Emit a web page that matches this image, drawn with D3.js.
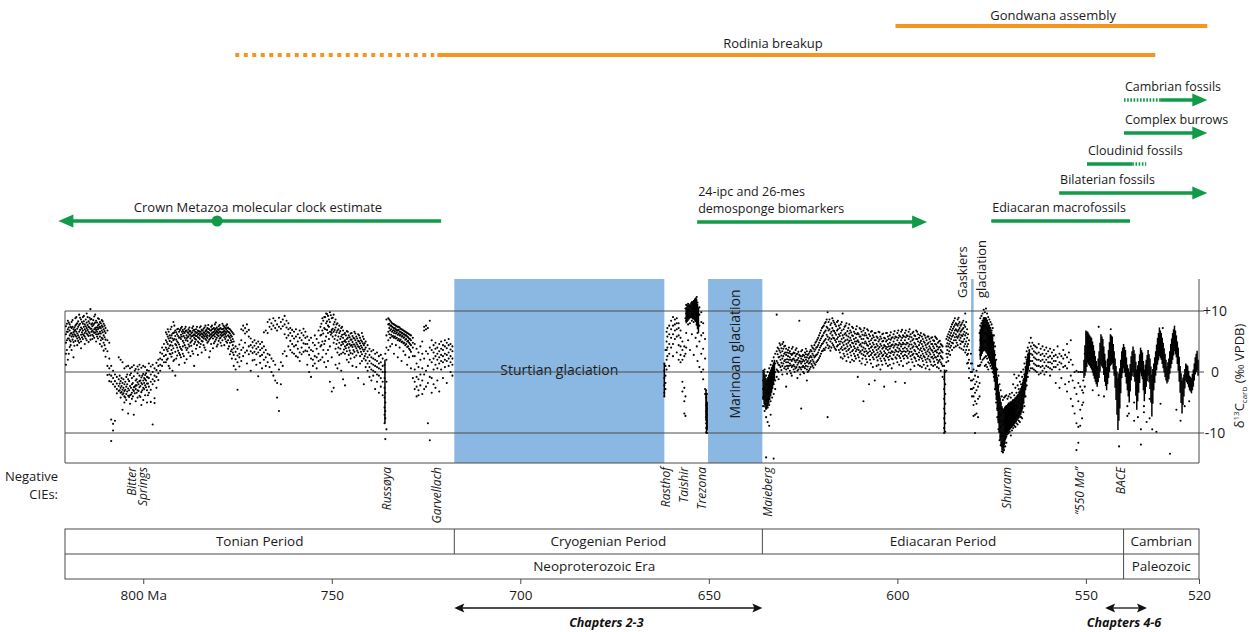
<!DOCTYPE html>
<html>
<head>
<meta charset="utf-8">
<script src="https://cdnjs.cloudflare.com/ajax/libs/d3/7.8.5/d3.min.js"></script>
<style>
  body { margin: 0; background: #fff; }
  svg { font-family: "Open Sans", sans-serif; }
</style>
</head>
<body>
<div id="chart"></div>
<script>
// ---- d13C carbonate compilation: [age Ma, value, value, ...] ----
var tonianRows = [
  [820.5,7.5,6.2,4.8,3.0,1.2],[820.0,8.4,7.0,6.6,5.5,2.0],[819.5,7.8,6.8,6.0,5.2,4.1],[819.0,8.2,7.2,6.4,5.8,3.6],
  [818.5,7.0,6.5,5.8,4.9,2.4],[818.0,8.8,7.6,6.9,6.0,5.1],[817.5,8.0,7.1,6.3,5.5,4.4],[817.0,9.4,7.7,6.6,5.7,4.8],
  [816.5,8.6,7.3,6.1,5.0,3.9],[816.0,9.0,7.9,6.8,6.2,5.4],[815.5,7.8,7.0,6.4,5.8,4.6],[815.0,9.6,8.1,7.2,6.3,5.2],
  [814.5,8.3,7.4,6.6,5.9,4.9],[814.0,10.3,8.6,7.1,6.0,5.3],[813.5,8.0,7.5,6.8,6.1,5.4],[813.0,9.1,7.9,7.0,6.4,5.6],
  [812.5,8.4,7.3,6.9,6.2,5.0],[812.0,8.8,7.6,7.0,6.2,5.5],[811.5,8.2,7.4,6.6,5.8,4.6],[811.0,8.5,7.6,6.8,5.6,4.2],
  [810.5,7.9,7.0,6.0,4.8,3.5],[810.0,7.2,6.4,5.3,3.8,2.5],[809.5,6.8,5.2,3.4,1.0,-0.5],[809.0,4.8,2.2,0.6,-0.4,-1.5],
  [808.5,1.0,-0.6,-1.6,-7.8,-11.3],[808.0,0.2,-1.0,-2.0,-8.5,-9.6],[807.5,-0.4,-1.5,-2.4,-8.0],[807.0,-0.8,-1.9,-2.8,-3.5],
  [806.5,2.4,-1.2,-2.3,-3.1],[806.0,2.0,-1.5,-2.6,-3.4,-4.2],[805.5,1.6,-1.8,-2.9,-3.7,-6.2],[805.0,0.6,-2.0,-3.1,-4.0,-5.0],
  [804.5,0.9,-0.8,-2.4,-3.6,-4.6],[804.0,1.0,-1.2,-2.7,-3.9,-6.8],[803.5,0.6,-0.5,-2.3,-3.8,-5.2],[803.0,0.8,-1.0,-2.0,-3.4,-4.4],
  [802.5,1.1,-0.7,-2.5,-3.1,-7.0],[802.0,0.5,-1.4,-2.2,-2.8,-4.8],[801.5,0.9,-0.2,-1.7,-3.0,-4.2],[801.0,1.2,-0.6,-1.5,-2.5,-3.9],
  [800.5,0.7,-0.9,-1.8,-3.3,-5.4],[800.0,1.0,-0.3,-1.4,-2.6,-4.6],[799.5,0.8,-0.5,-1.2,-2.2,-3.8],[799.0,0.3,-0.8,-1.9,-3.0,-5.0],
  [798.5,1.4,0.2,-1.0,-2.4,-3.4],[798.0,0.9,-0.4,-1.6,-2.9,-4.9],[797.5,1.2,0.0,-1.2,-2.0,-8.6],[797.0,0.6,-0.6,-1.5,-4.3,-5.1],
  [796.5,1.5,0.3,-0.8,-2.6],[796.0,2.0,1.0,-0.2,-1.3],[795.5,3.2,2.2,1.2,0.2],[795.0,4.0,3.0,2.0,1.0],[794.5,4.6,3.6,2.6,1.6],
  [794.0,6.5,5.2,4.0,2.8,1.6],[793.5,7.0,5.8,4.6,3.4,2.2],[793.0,6.0,5.1,4.3,3.0,0.6],[792.5,7.4,6.0,4.9,3.6,2.5],
  [792.0,8.2,6.4,5.2,3.9,1.8],[791.5,6.8,5.9,4.6,3.3,-0.6],[791.0,7.0,6.2,5.0,4.0,2.7],[790.5,6.6,5.6,4.5,3.1,1.2],
  [790.0,7.2,6.1,5.4,3.8,2.4],[789.5,6.9,6.3,5.1,4.2,3.0],[789.0,7.1,6.4,5.6,4.4,1.5],[788.5,6.8,6.0,5.5,3.6,2.1],
  [788.0,7.0,6.4,5.8,4.5,3.2],[787.5,6.7,6.1,5.5,4.8,2.6],[787.0,7.2,6.5,5.9,5.2,3.4],[786.5,6.9,6.2,5.6,4.6,1.0],
  [786.0,7.0,6.4,5.9,5.3,3.8],[785.5,6.8,6.2,5.7,5.0,2.8],[785.0,7.3,6.6,6.0,5.4,4.1],[784.5,6.9,6.3,5.8,5.1,3.2],
  [784.0,7.1,6.5,6.0,5.5,4.4],[783.5,7.6,6.7,6.1,5.4,3.6],[783.0,7.2,6.6,6.0,5.6,4.8],[782.5,7.0,6.4,5.9,5.3,2.4],
  [782.0,7.4,6.8,6.2,5.7,4.6],[781.5,7.1,6.5,6.0,5.5,3.9],[781.0,7.8,6.9,6.3,5.8,5.0],[780.5,7.3,6.7,6.2,5.6,4.2],
  [780.0,7.5,6.9,6.4,5.9,5.1],[779.5,7.2,6.6,6.1,5.6,4.8],[779.0,7.9,7.0,6.5,6.0,5.2],[778.5,7.4,6.8,6.3,5.7,4.4],
  [778.0,7.6,7.0,6.4,5.8,5.0],[777.5,7.3,6.6,6.0,5.2,3.8],[777.0,7.0,6.3,5.6,4.8,2.9],[776.5,6.6,5.8,4.9,3.7,2.2],
  [776.0,6.2,5.0,3.9,2.8,1.0],[775.5,4.2,3.3,2.1,0.4],[775.0,3.8,2.7,1.6,-2.9],[774.5,4.5,3.0,2.4,0.9],
  [774.0,7.0,5.2,3.6,1.8],[773.5,7.6,6.8,4.0,2.6],[773.0,7.2,6.3,4.8,3.2],[772.5,7.8,6.6,3.5,1.4],
  [772.0,6.9,5.8,4.2,2.9],[771.5,5.5,4.4,3.4,0.2],[771.0,4.9,4.0,3.1,1.9],[770.5,5.2,4.3,3.3,2.0],
  [770.0,4.7,3.8,2.9,1.2],[769.5,5.0,4.1,3.2,-0.7],[769.0,4.6,3.6,2.6,1.5],[768.5,4.9,3.9,2.8,0.6],
  [768.0,6.5,4.2,3.2,2.0],[767.5,6.8,3.6,2.4,1.0],[767.0,8.2,6.4,3.0,1.6],[766.5,8.6,7.4,2.8,0.8],
  [766.0,8.0,7.0,2.2,0.0],[765.5,8.8,7.6,1.8,-0.6],[765.0,8.4,7.2,1.2,-1.4],[764.5,7.8,6.8,-1.8,-4.2],
  [764.0,8.9,7.4,0.4,-6.4],[763.5,8.2,7.1,1.6,-2.0],[763.0,8.6,7.5,3.0,1.0],[762.5,9.2,7.8,6.2,3.4],
  [762.0,8.4,7.3,5.6,2.6],[761.5,8.0,7.0,6.0,4.2],[761.0,7.2,6.4,5.1,3.6],[760.5,6.9,5.9,4.6,3.2],
  [760.0,6.6,5.5,4.2,3.0],[759.5,7.0,5.8,4.4,2.6],[759.0,6.2,5.0,3.8,2.4],[758.5,6.8,5.6,3.2,1.8],
  [758.0,6.4,5.2,4.0,2.9],[757.5,7.1,6.0,4.7,3.3],[757.0,6.6,5.6,4.6,3.5],[756.5,5.8,4.6,3.4,1.2],
  [756.0,5.2,4.0,2.8,0.0],[755.5,5.6,3.6,2.2,-0.8],[755.0,4.8,3.4,2.0,1.0],[754.5,6.0,4.4,2.6,1.4],
  [754.0,5.4,3.8,2.4,0.6],[753.5,6.8,4.8,3.0,1.8],[753.0,7.4,6.0,4.2,2.0],[752.5,8.8,6.8,5.0,2.4],
  [752.0,9.0,7.2,4.6,1.6],[751.5,9.6,8.0,5.8,3.0,0.8],[751.0,9.2,7.6,6.4,3.6,1.8],[750.5,9.8,8.2,6.6,4.2,-1.6],
  [750.0,8.8,6.9,6.4,2.4,-3.2],[749.5,9.4,7.8,6.6,4.8,-2.6],[749.0,8.6,7.3,6.0,3.8,1.2],[748.5,8.0,6.8,5.2,3.2,0.6],
  [748.0,7.6,6.4,4.8,2.8,1.4],[747.5,7.2,5.8,4.4,3.0,0.2],[747.0,6.8,5.6,4.6,3.2,-1.2],[746.5,6.4,5.2,4.2,3.0,-2.2],
  [746.0,6.7,5.4,4.4,3.4,2.0],[745.5,6.0,5.0,4.0,2.8,1.6],[745.0,6.3,5.3,4.3,3.1,2.2],[744.5,5.9,4.9,4.1,3.0,1.0],
  [744.0,6.6,5.5,4.5,3.3,2.4],[743.5,5.8,4.8,3.9,2.7,0.8],[743.0,6.2,5.1,4.2,3.2,-1.0],[742.5,5.6,4.7,3.8,2.6,1.4],
  [742.0,6.4,5.0,4.0,2.9,1.8],[741.5,5.4,4.4,3.4,2.2,-2.0],[741.0,5.0,4.0,3.0,1.9,0.8],[740.5,4.4,3.4,2.4,1.4,0.2],
  [740.0,3.8,2.8,1.8,0.8,-0.8],[739.5,3.4,2.4,1.4,0.4,-1.4],[739.0,3.6,2.2,1.2,0.2,-0.6],[738.5,3.0,2.0,1.0,0.0,-2.8],
  [738.0,3.2,1.8,0.8,-0.4,-1.6],[737.5,2.6,1.4,0.6,-0.6,-3.4],[737.0,2.8,1.6,0.4,-1.0,-2.4],[736.5,2.2,1.0,0.0,-1.6,-3.8],
  [736.0,1.2,-1.0,-2.6,-4.2,-5.8,-7.0,-8.4],[735.8,3.0,0.0,-3.4,-5.0,-6.4,-7.6,-11.0],[735.5,8.6,6.0,4.0,2.0,-1.6,-9.4],
  [735.0,8.8,7.8,6.6,5.2,3.6],[734.5,8.4,7.6,6.8,5.6,4.2],[734.0,8.0,7.4,6.6,5.8,4.6],[733.5,7.8,7.1,6.4,5.6,3.0],
  [733.0,7.6,7.0,6.3,5.5,4.4],[732.5,7.4,6.8,6.1,5.2,2.4],[732.0,7.3,6.6,6.0,5.1,4.0],[731.5,7.0,6.4,5.8,4.9,1.8],
  [731.0,6.8,6.2,5.6,4.7,3.4],[730.5,6.6,6.0,5.3,4.4,2.8],[730.0,6.4,5.8,5.0,4.1,1.2],[729.5,6.2,5.5,4.8,3.8,2.4],
  [729.0,6.0,5.2,4.4,3.3,0.6],[728.5,5.6,4.8,4.0,2.6,-1.0],[728.0,4.6,2.6,0.4,-1.6,-2.8],[727.5,3.8,1.4,-0.8,-2.4,-4.0],
  [727.0,3.2,0.8,-1.2,-3.0,-3.8],[726.5,4.2,2.0,-0.4,-2.2],[726.0,5.0,3.0,0.6,-1.4,-3.6],[725.5,7.4,6.8,2.2,-0.4,-2.8],
  [725.0,7.6,7.0,3.4,0.2,-2.4],[724.5,7.2,3.0,1.0,-1.8,-8.4],[724.0,8.4,4.0,2.0,-0.8,-11.2],[723.5,5.2,3.6,1.6,-1.0,-3.4],
  [723.0,4.4,3.2,2.2,0.4,-2.0],[722.5,4.8,3.8,2.6,1.2,-2.6],[722.0,4.0,3.0,2.0,0.6,-1.4],[721.5,4.6,3.4,2.4,1.4,-3.2],
  [721.0,5.0,3.8,2.8,1.8,0.4],[720.5,4.4,3.6,2.6,1.6,-1.0],[720.0,5.2,4.2,3.0,2.0,0.8],[719.5,4.8,3.9,2.8,1.8,-1.8],
  [719.0,5.4,4.4,3.2,2.2,1.0],[718.5,4.6,3.7,2.6,1.6,0.0],[718.0,4.2,3.4,2.2,1.2,-0.6]
];

// in-between readings where the Tonian cloud is thickest
var tonianBandRows = [
  [820.25,7.9,6.6,5.2,3.6],[819.75,8.1,7.3,5.5,3.0],[819.25,7.4,6.3,5.0,4.4],[818.75,8.5,7.4,6.1,5.3],[818.25,7.3,6.7,6.2,4.3],
  [817.75,9.0,7.8,6.6,5.8],[817.25,8.3,7.4,6.0,5.1],[816.75,8.9,7.9,6.9,5.4],[816.25,8.2,7.1,6.5,5.7],[815.75,9.2,8.3,7.4,6.0],
  [815.25,8.6,7.5,6.7,5.5],[814.75,9.0,7.7,6.9,6.1],[814.25,8.9,8.0,7.3,6.4],[813.75,8.7,7.8,7.1,6.6],[813.25,8.5,7.7,6.6,5.9],
  [812.75,9.4,8.1,7.2,6.5],[812.25,8.1,7.3,6.6,5.8],[811.75,8.7,7.8,7.2,6.3],[811.25,8.0,7.2,6.3,5.2],[810.75,8.3,7.4,6.5,5.4],
  [810.25,7.6,6.7,5.7,4.4],
  [806.25,-0.6,-1.9,-3.0],[805.75,-1.0,-2.3,-3.3],[805.25,-1.2,-2.6,-3.5],[804.75,-1.6,-2.9,-4.2],[804.25,-0.4,-2.0,-3.2],
  [803.75,-1.5,-3.0,-4.1],[803.25,-0.2,-2.6,-3.7],[802.75,-1.8,-2.9,-4.0],[802.25,0.2,-2.4,-3.5],[801.75,-1.2,-2.2,-3.4],
  [801.25,0.4,-2.0,-3.1],[800.75,-1.4,-2.3,-4.1],[800.25,-0.6,-2.0,-3.0],[799.75,-1.0,-1.8,-2.8],[799.25,-0.2,-1.4,-2.5],
  [798.75,-0.9,-1.9,-3.8],
  [793.75,6.2,4.9,3.7,2.0],[793.25,6.6,5.5,3.9,1.0],[792.75,7.0,5.6,4.4,2.9],[792.25,6.3,5.5,4.3,3.1,0.2],[791.75,7.6,6.5,5.4,2.0],
  [791.25,6.5,5.3,4.4,2.2],[790.75,7.1,5.9,4.8,3.5],[790.25,6.9,5.7,4.1,2.8],[789.75,7.4,6.6,5.8,3.6],[789.25,6.6,5.9,4.8,2.6],
  [788.75,7.4,6.7,5.2,4.0],[788.25,6.5,5.7,5.1,3.9],[787.75,7.3,6.7,6.1,4.2],[787.25,6.4,5.8,5.0,4.3],[786.75,7.5,6.8,6.0,3.0],
  [786.25,6.6,6.0,5.4,4.9],[785.75,7.4,6.5,5.9,4.4],[785.25,6.7,6.3,5.6,4.8],[784.75,7.5,6.6,6.2,4.6],[784.25,6.8,6.2,5.7,5.0],
  [783.75,7.3,6.4,5.8,4.0],[783.25,6.9,6.3,5.8,5.2],[782.75,7.7,7.1,6.5,5.0],[782.25,6.8,6.1,5.5,3.4],[781.75,7.6,7.0,6.4,5.9],
  [781.25,7.2,6.6,6.1,4.7],[780.75,8.1,7.1,6.5,5.3],[780.25,7.0,6.5,6.0,4.5],[779.75,7.7,7.1,6.6,5.5],[779.25,7.0,6.4,5.9,4.3],
  [778.75,7.6,7.1,6.6,6.1],[778.25,7.2,6.6,6.1,5.4],[777.75,7.8,7.2,6.7,4.8],[777.25,7.1,6.5,5.8,4.2],[776.75,6.8,6.0,5.2,3.4],
  [776.25,6.4,5.4,4.4,3.2],
  [752.75,7.9,6.1,4.4],[752.25,8.4,6.3,3.6],[751.75,9.0,7.0,5.1],[751.25,9.5,8.3,6.9],[750.75,8.6,7.4,5.4],[750.25,9.3,6.6,6.1],
  [749.75,8.9,7.1,5.8],[749.25,8.2,6.9,5.4],[748.75,7.8,6.5,4.6],[748.25,7.0,5.8,4.0],[747.75,6.7,5.4,3.8],[747.25,7.4,6.1,4.9],
  [746.75,6.2,5.0,3.7],[746.25,6.0,4.9,3.9],[745.75,6.6,5.6,4.6],[745.25,5.7,4.6,3.5],[744.75,6.4,5.3,4.4],[744.25,5.6,4.5,3.6],
  [743.75,6.3,5.2,4.2],[743.25,5.5,4.5,3.5],[742.75,6.0,5.0,4.1],[742.25,5.2,4.3,3.3],[741.75,5.8,4.7,3.7],[741.25,4.7,3.7,2.6],
  [734.75,8.6,7.9,7.2,6.2],[734.25,8.2,7.6,7.0,6.1],[733.75,7.9,7.3,6.8,5.9],[733.25,7.7,7.2,6.7,5.8],[732.75,7.5,6.9,6.5,5.6],
  [732.25,7.4,6.9,6.3,5.4],[731.75,7.1,6.6,6.1,5.3],[731.25,6.9,6.4,5.9,5.0],[730.75,6.7,6.2,5.7,4.8],[730.25,6.5,6.0,5.4,4.6],
  [729.75,6.3,5.7,5.1,4.2],[729.25,6.1,5.4,4.6,3.6]
];

var cryogenianRows = [
  [661.8,1.4,0.2,-1.0,-2.2,-3.4,-4.0],[661.5,3.6,1.0,-0.6,-1.8,-2.8],[661.2,6.6,5.0,3.6,2.0,0.4],[661.0,7.2,5.8,4.0,2.6],
  [660.5,7.6,6.2,4.6,3.0,1.0],[660.0,8.4,7.0,5.6,4.0],[659.5,9.0,7.6,6.2,4.6,2.6],[659.0,8.6,7.8,6.8,5.4],
  [658.5,8.8,8.0,7.0,5.8,3.2],[658.0,8.0,7.2,6.0,4.4,2.0],[657.5,6.8,5.6,4.2,2.8,1.6],[657.0,5.0,3.6,2.0,-1.6,-3.2],
  [656.5,4.2,2.6,-2.6,-4.8,-6.8],[656.2,10.4,8.8,3.0,-4.0,-7.2],[656.0,11.0,9.6,8.4,6.4,4.0],[655.5,11.2,10.2,9.2,7.8,5.2],
  [655.0,10.8,10.0,9.0,8.0,3.6],[654.5,11.4,10.4,9.6,8.4,6.2],[654.0,11.6,10.6,9.4,8.2,2.8],[653.5,12.0,10.8,9.8,8.6,5.6],
  [653.2,12.3,11.0,9.6,7.8,4.2],[653.0,11.4,10.2,8.8,6.4,1.8],[652.5,10.6,9.4,7.6,5.0,0.8],[652.0,9.8,8.2,6.0,3.0,0.0],
  [651.5,8.0,6.4,3.8,0.4,-1.2],[651.0,5.4,2.2,-2.8,-3.6],[650.7,-3.0,-4.2,-5.4,-6.4,-7.4,-8.4,-9.2,-9.9],
  [650.5,-3.6,-5.0,-6.0,-7.0,-8.0,-9.0,-10.0]
];

var ediacaranRows = [
  [635.6,0.2,-1.4,-2.8,-4.2,-5.6],[635.2,0.4,-1.2,-2.6,-4.0,-5.2,-6.4],[634.8,-0.6,-2.0,-3.4,-4.6,-6.0,-7.4,-14.0],
  [634.4,0.0,-1.6,-3.0,-4.4,-5.8,-8.2],[634.0,0.6,-1.0,-2.4,-3.8,-5.4,-8.8],[633.6,1.2,-0.4,-1.8,-3.2,-4.8,-7.0],
  [633.2,1.8,0.2,-1.2,-2.6,-4.2],[632.8,2.4,0.8,-0.6,-2.0,-3.6,-14.2],[632.4,3.0,1.4,0.0,-1.4,-2.8],[632.0,9.4,3.4,1.8,0.4,-0.8],
  [631.5,3.8,2.4,1.2,0.0,-1.2],[631.0,4.4,3.2,2.0,0.8],[630.5,4.6,3.4,2.2,1.0,-0.4],[630.0,4.2,3.0,1.8,0.6],
  [629.5,3.8,2.8,1.6,0.4,-2.4],[629.0,3.6,2.6,1.6,0.6],[628.5,3.4,2.4,1.4,0.2],[628.0,3.8,2.8,1.8,0.8,-0.6],
  [627.5,3.2,2.2,1.2,0.4],[627.0,3.6,2.6,1.6,0.6],[626.5,3.0,2.0,1.2,0.2,-1.0],[626.0,8.4,2.8,1.8,0.8],
  [625.5,3.4,2.2,1.4,0.4,-6.0],[625.0,2.8,2.0,1.0,0.0],[624.5,3.2,2.4,1.4,0.6],[624.0,3.4,2.4,1.6,0.4,-1.4],
  [623.5,3.0,2.2,1.4,0.2],[623.0,3.6,2.6,1.8,0.8],[622.5,4.0,3.0,2.0,1.0],[622.0,4.4,3.4,2.4,1.4],
  [621.5,5.0,4.0,2.8,1.6],[621.0,5.6,4.4,3.2,2.0],[620.5,6.4,5.2,4.0,2.6],[620.0,7.2,5.8,4.6,3.4],
  [619.5,7.6,6.4,5.0,3.8],[619.0,8.2,6.8,5.4,4.0],[618.5,9.8,7.2,5.8,4.4,-7.4],[618.0,8.6,7.0,5.6,4.2],
  [617.5,8.0,6.6,5.4,4.0],[617.0,8.4,6.8,5.6,4.4],[616.5,7.8,6.4,5.2,3.8],[616.0,8.2,6.8,5.4,4.2],
  [615.5,7.6,6.2,5.0,3.6],[615.0,7.8,6.4,5.0,3.8,2.4],[614.5,9.6,6.0,4.8,3.6,2.2],[614.0,7.4,6.2,5.0,3.8,2.6],
  [613.5,8.0,6.0,4.6,3.4,1.8],[613.0,7.2,5.8,4.8,3.6,2.4],[612.5,6.8,5.6,4.4,3.2,1.6],[612.0,7.4,6.0,4.8,3.4,2.0],
  [611.5,6.6,5.4,4.2,3.0,1.8],[611.0,7.0,5.6,4.6,3.4,2.2],[610.5,6.4,5.2,4.0,2.8,-0.8],[610.0,7.2,5.8,4.4,3.2,1.8],
  [609.5,6.6,5.4,4.2,3.0,1.4],[609.0,6.8,5.4,4.0,2.8,-4.8],[608.5,6.4,5.0,3.8,2.6,1.2],[608.0,7.0,5.6,4.4,3.0,1.6],
  [607.5,6.2,5.0,3.8,2.6,-2.0],[607.0,6.6,5.2,4.0,2.8,1.4],[606.5,6.0,4.8,3.6,2.4,0.8],[606.0,6.4,5.2,4.0,2.8,-1.4],
  [605.5,5.8,4.6,3.6,2.4,1.0],[605.0,6.6,5.0,3.8,2.6,1.2],[604.5,5.8,4.6,3.4,2.2,0.4],[604.0,6.2,5.0,3.8,2.6,1.2],
  [603.5,5.6,4.4,3.4,2.2,-2.4],[603.0,6.4,5.0,3.8,2.6,1.4],[602.5,5.8,4.6,3.6,2.4,1.0],[602.0,6.0,4.8,3.8,2.6,1.2],
  [601.5,5.6,4.4,3.4,2.2,0.6],[601.0,6.2,5.0,4.0,2.8,1.4],[600.5,5.8,4.6,3.6,2.4,-1.6],[600.0,6.4,5.2,4.0,2.8,1.6],
  [599.5,6.0,4.8,3.8,2.6,1.2],[599.0,6.6,5.2,4.2,3.0,1.8],[598.5,6.0,4.8,3.8,2.6,1.0],[598.0,6.4,5.2,4.0,2.8,-1.8],
  [597.5,6.0,4.8,3.8,2.6,1.4],[597.0,6.6,5.4,4.2,3.0,1.6],[596.5,6.2,5.0,3.8,2.6,0.4],[596.0,6.4,5.2,4.0,2.8,1.6],
  [595.5,6.0,4.8,3.6,2.4,1.0],[595.0,6.8,5.4,4.2,3.0,1.8],[594.5,6.2,5.0,3.8,2.6,1.2],[594.0,6.0,4.8,3.6,2.4,1.0],
  [593.5,5.8,4.6,3.4,2.2,0.8],[593.0,6.2,5.0,3.8,2.6,1.2],[592.5,5.6,4.4,3.2,2.0,0.6],[592.0,5.8,4.6,3.4,2.2,1.0],
  [591.5,5.4,4.2,3.2,2.0,0.4],[591.0,5.6,4.6,3.6,2.4,1.2],[590.5,5.2,4.2,3.2,2.2,1.0],[590.0,5.8,4.6,3.4,2.4,1.2],
  [589.5,5.4,4.2,3.2,2.0,0.8],[589.0,5.0,4.0,3.0,1.8,0.6],[588.5,4.6,3.6,2.6,1.6,0.2],[588.0,4.2,3.2,2.2,1.0,-0.8],
  [587.6,1.0,-1.2,-2.8,-4.4,-6.0,-7.6,-9.2,-10.0],[587.3,0.0,-2.0,-3.6,-5.2,-6.8,-8.4,-9.8],
  [587.0,5.4,4.2,3.0,1.6,0.2],[586.5,6.2,5.2,4.2,3.0,1.8],[586.0,7.0,6.0,5.0,4.0,2.8],[585.5,7.8,6.8,5.8,4.8,3.6],
  [585.0,8.4,7.4,6.4,5.2,4.0],[584.5,8.0,7.0,6.2,5.2,4.2],[584.0,8.6,7.6,6.6,5.6,4.4],[583.5,8.2,7.2,6.2,5.2,4.0],
  [583.0,7.8,6.8,6.0,5.0,3.8],[582.5,8.4,7.2,6.2,5.0,3.6],[582.0,9.6,7.4,6.0,4.6,3.2],[581.5,7.0,5.6,4.2,2.8,1.4],
  [581.0,5.2,3.6,2.0,0.6,-1.0],[580.5,3.0,1.4,0.0,-1.4,-2.8],[580.2,1.4,0.0,-1.4,-2.8,-4.0],
  [579.8,0.4,-1.2,-2.6,-4.0,-5.4,-7.2],[579.4,-0.6,-2.0,-3.4,-4.8,-7.0,-10.0],[579.0,0.2,-1.6,-3.0,-5.2,-6.8],
  [578.6,1.0,-0.8,-2.4,-4.4,-7.4],[578.2,6.4,3.6,1.0,-1.8,-4.0],
  [578.0,8.8,7.6,6.4,5.2,4.0,2.8,1.2],[577.7,9.2,8.0,6.8,5.6,4.4,3.2,1.6],[577.4,9.6,8.4,7.2,6.0,4.8,3.4,2.0],
  [577.1,10.2,8.8,7.6,6.4,5.0,3.6,2.2],[576.8,9.8,8.6,7.4,6.2,5.0,3.8,2.4,1.0],[576.5,10.4,8.8,7.6,6.4,5.2,4.0,2.6,1.2],
  [576.2,9.6,8.4,7.2,6.0,4.8,3.6,2.2,0.8],[575.9,9.0,8.0,6.8,5.6,4.4,3.0,1.6,0.4],[575.6,8.6,7.6,6.4,5.2,4.0,2.8,1.4],
  [575.3,8.2,7.2,6.0,4.8,3.6,2.4,1.0],[575.0,7.8,6.8,5.6,4.4,3.2,2.0,0.6],[574.7,7.2,6.0,4.8,3.6,2.4,1.2,0.0],
  [574.4,6.0,4.8,3.4,2.0,0.6,-0.8],[574.1,4.2,2.8,1.4,0.0,-1.4,-2.8],[573.8,2.0,0.6,-0.8,-2.2,-3.6,-5.0],
  [573.5,0.4,-1.2,-2.8,-4.4,-6.0,-7.4],[573.2,-0.6,-2.4,-4.2,-6.0,-7.8,-9.4],[572.9,-2.0,-4.0,-6.0,-8.0,-9.8,-11.2],
  [572.6,-3.0,-5.0,-7.0,-9.0,-10.6,-12.0],[572.3,-4.0,-6.0,-8.0,-10.0,-11.6,-13.0],[572.0,-4.6,-6.6,-8.6,-10.4,-12.2,-13.2],
  [571.7,-4.2,-6.2,-8.2,-10.0,-11.8,-12.8],[571.4,-4.0,-5.8,-7.6,-9.4,-11.0,-12.2],[571.1,-3.8,-5.6,-7.4,-9.2,-10.6,-11.6],
  [570.8,-4.4,-6.0,-7.6,-9.0,-10.2],[570.5,-4.0,-5.6,-7.2,-8.6,-10.0],[570.2,-3.6,-5.4,-7.0,-8.4,-9.8],
  [569.9,-4.2,-5.8,-7.4,-8.8,-10.4],[569.6,-3.4,-5.2,-6.8,-8.2,-9.6],[569.3,-2.0,-4.6,-6.4,-8.0,-9.2],
  [569.0,-0.4,-3.8,-5.8,-7.4,-8.8],[568.7,-2.6,-4.4,-6.0,-7.6,-9.0],[568.4,-1.0,-3.4,-5.4,-7.0,-8.4],
  [568.1,-2.2,-4.0,-5.8,-7.2,-8.6],[567.8,-0.6,-2.8,-4.8,-6.6,-8.0],[567.5,-1.6,-3.4,-5.2,-6.8,-8.2],
  [567.2,0.0,-2.0,-4.0,-5.8,-7.4],[566.9,-0.8,-2.6,-4.4,-6.0,-7.6],[566.6,0.4,-1.4,-3.2,-5.0,-6.6],
  [566.3,1.4,-0.4,-2.2,-4.0,-5.6],[566.0,2.4,0.8,-0.8,-2.4,-4.0],[565.7,3.4,2.0,0.6,-0.8,-2.2],
  [565.4,4.0,2.8,1.6,0.4,-0.8],[565.0,4.8,3.6,2.4,1.2,0.2],[564.6,5.6,4.2,3.0,1.8,0.6],[564.2,4.8,3.8,2.8,1.8,0.6],
  [563.8,4.4,3.4,2.4,1.4,0.4],[563.4,4.2,3.2,2.2,1.2,0.2],[563.0,4.0,3.0,2.0,1.0,0.0],[562.5,4.6,3.2,2.0,1.0,-0.4],
  [562.0,3.8,2.8,1.8,0.8,-0.2],[561.5,4.2,3.0,2.0,1.0,0.2],[561.0,3.6,2.6,1.6,0.6,-0.4],[560.5,4.0,3.0,2.0,1.0,0.0],
  [560.0,3.4,2.4,1.6,0.8],[559.5,3.8,2.6,1.6,0.6,-0.6],[559.0,3.2,2.2,1.4,0.4],[558.5,3.6,2.6,1.8,0.8],
  [558.0,2.8,1.8,0.8,-1.8],[557.5,4.2,2.4,1.2],[557.0,3.0,1.6,0.4,-2.6],[556.5,2.6,1.4,-1.0],[556.0,3.6,2.2,0.8],
  [555.5,2.8,1.0,-2.0],[555.0,4.6,2.4,0.6,-3.2],[554.5,3.2,1.6,-1.6],[554.0,5.2,2.0,-0.6,-4.4],[553.5,1.2,-1.4,-5.6],
  [553.0,0.0,-2.6,-6.8],[552.5,0.2,-3.6,-8.4,-12.8],[552.0,0.0,-1.8,-4.8,-9.0,-11.6],[551.5,0.0,-2.4,-6.2,-8.8],
  [551.0,0.0,-3.0,-5.4,-7.6],[550.7,-1.4,-3.4,-5.0]
];

// in-between readings for the thick Ediacaran band
var ediacaranBandRows = [
  [631.75,4.0,2.9,1.5,0.2],[631.25,4.7,3.5,2.5,1.1],[630.75,3.9,2.7,1.5,0.3],[630.25,4.9,3.8,2.6,1.4],[629.75,4.3,3.2,2.0,0.9],
  [629.25,3.2,2.1,1.0,-0.3],[628.75,4.0,3.1,2.0,1.0],[628.25,3.0,2.0,1.1,-0.2],[627.75,4.1,3.0,2.1,1.0],[627.25,3.1,1.9,0.9,0.0],
  [626.75,3.9,2.9,1.9,0.8],[626.25,3.3,2.3,1.5,0.4],[625.75,2.6,1.7,0.7,-0.4],[625.25,3.6,2.6,1.7,0.8],[624.75,2.7,1.8,0.8,-0.2],
  [624.25,3.8,2.9,2.0,1.0],[623.75,2.8,1.8,0.9,0.0],[623.25,3.3,2.4,1.5,0.5],[622.75,4.3,3.4,2.4,1.3],[622.25,3.8,2.7,1.7,0.7],
  [621.75,4.8,3.7,2.6,1.2],[621.25,5.3,4.1,2.9,1.8],[620.75,6.0,4.8,3.6,2.3],[620.25,6.8,5.5,4.3,3.0],[619.75,7.4,6.0,4.7,3.5],
  [619.25,8.0,6.6,5.2,3.6],[618.75,8.6,7.4,6.1,4.8],[618.25,8.2,6.8,5.3,3.9],[617.75,7.7,6.3,5.0,3.5],[617.25,8.8,7.2,6.0,4.7],
  [616.75,8.1,6.7,5.5,4.1],[616.25,7.5,6.1,4.9,3.6],[615.75,8.4,7.0,5.7,4.4],[615.25,7.2,5.9,4.6,3.2],[614.75,8.2,6.8,5.4,4.1],
  [614.25,7.0,5.6,4.4,3.0],[613.75,7.6,6.4,5.2,3.9],[613.25,6.7,5.3,4.2,2.9],[612.75,7.8,6.3,5.1,3.8],[612.25,6.5,5.2,4.1,2.7],
  [611.75,7.2,5.9,4.7,3.6],[611.25,6.3,5.0,3.9,2.6],[610.75,7.5,6.2,5.0,3.7],[610.25,6.2,4.9,3.6,2.4],[609.75,7.0,5.8,4.6,3.4],
  [609.25,6.1,4.8,3.6,2.2],[608.75,7.2,6.0,4.7,3.3],[608.25,6.0,4.7,3.4,2.1],[607.75,6.8,5.5,4.3,3.2],[607.25,5.9,4.6,3.4,2.0],
  [606.75,6.7,5.5,4.2,3.1],[606.25,5.7,4.5,3.3,2.1],[605.75,6.4,5.2,4.1,2.9],[605.25,5.6,4.3,3.2,1.9],[604.75,6.5,5.3,4.1,2.9],
  [604.25,5.5,4.3,3.1,1.8],[603.75,6.3,5.1,4.0,2.8],[603.25,5.5,4.2,3.1,1.9],[602.75,6.4,5.2,4.1,2.9],[602.25,5.4,4.2,3.2,2.0],
  [601.75,6.5,5.3,4.2,3.1],[601.25,5.7,4.5,3.3,2.1],[600.75,6.7,5.5,4.3,3.2],[600.25,5.7,4.5,3.4,2.2],[599.75,6.8,5.6,4.4,3.3],
  [599.25,5.8,4.6,3.5,2.3],[598.75,6.9,5.6,4.5,3.3],[598.25,5.8,4.6,3.4,2.2],[597.75,6.8,5.7,4.5,3.3],[597.25,5.9,4.7,3.5,2.3],
  [596.75,7.0,5.8,4.5,3.3],[596.25,5.7,4.5,3.3,2.1],[595.75,6.6,5.4,4.2,3.0],[595.25,5.9,4.6,3.4,2.2],[594.75,6.6,5.4,4.1,2.9],
  [594.25,5.6,4.4,3.2,2.0],[593.75,6.4,5.1,3.9,2.7],[593.25,5.4,4.2,3.0,1.8],[592.75,6.0,4.8,3.6,2.4],[592.25,5.2,4.0,2.9,1.6],
  [591.75,5.8,4.8,3.7,2.6],[591.25,5.0,3.9,2.9,1.7],[590.75,5.7,4.6,3.5,2.5],[590.25,5.1,3.9,2.8,1.7],[589.75,5.6,4.5,3.5,2.4],
  [589.25,4.8,3.7,2.6,1.5],[588.75,5.1,4.1,3.1,2.0],[588.25,4.4,3.4,2.4,1.3],
  [586.75,5.8,4.7,3.6,2.4],[586.25,6.6,5.6,4.6,3.4],[585.75,7.4,6.4,5.4,4.3],[585.25,8.1,7.1,6.0,4.7],[584.75,8.8,7.7,6.8,5.7],
  [584.25,7.8,6.8,5.8,4.8],[583.75,8.9,7.9,6.9,5.9],[583.25,7.6,6.6,5.6,4.6],[582.75,8.1,7.0,5.9,4.9],[582.25,7.7,6.6,5.4,4.2],
  [581.75,8.2,6.4,5.0,3.6],[581.25,6.2,4.6,3.0,1.5]
];

var terminalScatter = [
  [550.3,3.0,-2.4],[548.2,-3.0],[546.6,7.4,-3.8],[545.2,-4.0],[543.4,7.0],[541.2,-12.2],[539.0,-5.6,-7.2],
  [538.6,-6.8],[537.2,-5.0,-8.0],[536.2,-7.4],[535.4,-9.4,-11.9],[534.6,-5.6,-6.6],[533.9,-8.2],[533.1,-4.4,-7.6],
  [532.4,-9.4],[531.3,-9.8],[530.2,-5.2],[529.6,7.2],[527.7,-13.4],[526.0,-6.2],[524.9,-8.0],[523.8,-5.6],[522.6,-4.8]
];

// densest parts of the cloud, read as [age Ma, top, bottom]
var denseRanges = [
  [735.9,2.0,-8.4],[661.8,1.4,-4.0],
  [656.0,10.6,8.0],[655.75,11.0,8.2],[655.5,11.2,8.4],[655.25,11.0,8.6],[655.0,11.2,8.8],[654.75,11.4,8.8],
  [654.5,11.6,8.8],[654.25,11.6,8.6],[654.0,11.8,8.6],[653.75,12.0,8.4],[653.5,12.2,8.2],[653.25,12.0,7.6],
  [653.0,11.2,7.0],[652.75,10.6,6.4],[650.75,-3.0,-8.0],[650.6,-3.4,-10.0],[650.45,-5.0,-9.6],
  [635.6,0.0,-4.6],[635.35,0.2,-5.2],[635.1,-0.4,-5.8],[634.85,-1.0,-6.2],[634.6,-1.2,-6.0],[634.35,-0.8,-5.6],
  [634.1,-0.4,-5.2],[633.85,0.0,-4.6],[633.6,0.4,-4.0],[633.35,0.8,-3.4],[633.1,1.2,-2.8],[632.85,1.6,-2.0],[632.6,2.0,-1.4],
  [587.5,0.4,-9.8],
  [578.0,7.0,2.0],[577.75,7.6,2.6],[577.5,8.2,3.0],[577.25,8.6,3.4],[577.0,9.0,3.6],[576.75,9.0,3.4],[576.5,8.8,3.2],
  [576.25,8.6,3.0],[576.0,8.2,2.6],[575.75,7.8,2.2],[575.5,7.4,1.8],[575.25,7.0,1.4],[575.0,6.6,1.0],[574.75,6.0,0.4],
  [574.5,5.0,-0.4],[574.25,3.6,-1.6],[574.0,2.0,-3.0],[573.75,0.6,-4.6],[573.5,-0.8,-6.4],[573.25,-2.0,-8.4],
  [573.0,-3.2,-10.0],[572.75,-4.2,-11.2],[572.5,-5.0,-12.2],[572.25,-5.6,-12.8],[572.0,-6.0,-13.2],[571.75,-6.0,-12.6],
  [571.5,-5.8,-11.8],[571.25,-5.6,-11.0],[571.0,-5.4,-10.4],[570.75,-5.2,-10.0],[570.5,-5.0,-9.8],[570.25,-5.0,-9.6],
  [570.0,-4.8,-9.4],[569.75,-4.8,-9.2],[569.5,-4.6,-9.0],[569.25,-4.6,-8.8],[569.0,-4.4,-8.6],[568.75,-4.2,-8.4],
  [568.5,-4.0,-8.2],[568.25,-3.8,-8.0],[568.0,-3.6,-7.8],[567.75,-3.2,-7.6],[567.5,-3.0,-7.4],[567.25,-2.6,-7.0],
  [567.0,-2.2,-6.6],[566.75,-1.6,-6.0],[566.5,-1.0,-5.2],[566.25,-0.2,-4.2],[566.0,0.8,-3.0],[565.75,1.8,-1.6],
  [565.5,2.6,-0.4],[565.25,3.2,0.4],[565.0,3.6,1.0],
  [550.5,2.0,-1.0],[550.25,4.4,-0.6],[550.0,6.8,0.0],[549.75,6.7,0.8],[549.5,6.6,1.5],[549.25,6.3,1.2],[549.0,6.0,1.0],
  [548.75,5.8,0.7],[548.5,5.6,0.4],[548.25,5.0,-0.1],[548.0,4.4,-0.6],[547.75,3.5,-1.1],[547.5,2.6,-1.6],[547.25,1.8,-2.0],
  [547.0,1.0,-2.4],[546.75,2.2,-1.7],[546.5,3.4,-1.0],[546.25,4.8,0.1],[546.0,6.2,1.2],[545.75,5.8,0.9],[545.5,5.4,0.6],
  [545.25,4.2,-0.5],[545.0,3.0,-1.6],[544.75,1.9,-2.3],[544.5,0.8,-3.0],[544.25,2.2,-2.0],[544.0,3.6,-1.0],[543.75,4.9,0.0],
  [543.5,6.2,1.0],[543.25,6.0,1.2],[543.0,5.8,1.4],[542.75,4.6,0.4],[542.5,3.4,-0.6],[542.25,2.2,-2.6],[542.0,1.0,-4.6],
  [541.75,0.0,-7.0],[541.5,-1.0,-9.5],[541.25,-0.2,-8.0],[541.0,0.6,-6.0],[540.75,2.0,-3.5],[540.5,3.4,-1.0],[540.25,4.0,-0.2],
  [540.0,4.6,0.6],[539.75,4.1,-0.1],[539.5,3.6,-0.8],[539.25,2.4,-1.9],[539.0,1.2,-3.0],[538.75,0.6,-4.0],[538.5,0.0,-5.0],
  [538.25,1.3,-3.2],[538.0,2.6,-1.4],[537.75,3.4,-0.7],[537.5,4.2,0.0],[537.25,3.6,-0.8],[537.0,3.0,-1.6],[536.75,1.7,-3.9],
  [536.5,0.4,-6.2],[536.25,1.1,-4.8],[536.0,1.8,-3.4],[535.75,2.9,-1.8],[535.5,4.0,-0.2],[535.25,3.6,-0.7],[535.0,3.2,-1.2],
  [534.75,1.8,-3.0],[534.5,0.4,-4.8],[534.25,1.2,-3.6],[534.0,2.0,-2.4],[533.75,2.8,-1.5],[533.5,3.6,-0.6],[533.25,2.9,-1.7],
  [533.0,2.2,-2.8],[532.75,0.9,-5.0],[532.5,-0.4,-7.3],[532.25,0.5,-5.2],[532.0,1.4,-3.0],[531.75,2.4,-1.8],[531.5,3.4,-0.6],
  [531.25,4.5,0.3],[531.0,5.6,1.2],[530.75,6.4,1.9],[530.5,7.3,2.6],[530.25,6.8,2.3],[530.0,6.4,2.0],[529.75,5.6,1.3],
  [529.5,4.8,0.6],[529.25,3.9,-0.1],[529.0,3.0,-0.8],[528.75,2.0,-1.4],[528.5,1.0,-1.9],[528.25,1.6,-1.6],[528.0,2.2,-1.2],
  [527.75,3.4,-0.3],[527.5,4.6,0.6],[527.25,5.5,1.3],[527.0,6.4,2.0],[526.75,7.0,2.7],[526.5,7.6,3.4],[526.25,6.8,2.9],
  [526.0,6.0,2.4],[525.75,5.0,1.3],[525.5,4.0,0.2],[525.25,2.5,-1.6],[525.0,1.0,-3.4],[524.75,-0.2,-5.1],[524.5,-1.4,-6.8],
  [524.25,-0.9,-5.4],[524.0,-0.4,-4.0],[523.75,0.5,-2.7],[523.5,1.4,-1.4],[523.25,1.2,-1.7],[523.0,1.0,-2.0],[522.75,0.2,-2.5],
  [522.5,-0.6,-3.0],[522.25,-0.8,-3.2],[522.0,-1.0,-3.5],[521.75,-0.3,-3.0],[521.5,0.4,-2.4],[521.25,1.4,-1.4],[521.0,2.4,-0.4],
  [520.75,3.0,0.0],[520.5,3.5,0.3],[520.25,2.0,-0.6]
];

// ---- glaciations (Ma) ----
var glaciationNames = ["Sturtian glaciation", "Marinoan glaciation"];
var glaciationStart = [717.5, 650.2];
var glaciationEnd = [661.8, 635.8];
var gaskiersAge = 580.1;

// ---- negative carbon isotope excursions ----
var cieNames = ["Bitter|Springs", "Russøya", "Garvellach", "Rasthof", "Taishir", "Trezona", "Maieberg", "Shuram", "\u201c550 Ma\u201d", "BACE"];
var cieAges = [801.6, 735.3, 722.0, 661.3, 656.5, 651.8, 634.3, 570.9, 551.5, 540.6];

// ---- time scale ----
var periodNames = ["Tonian Period", "Cryogenian Period", "Ediacaran Period", "Cambrian"];
var periodBounds = [820.75, 717.5, 635.8, 540, 520];
var eraNames = ["Neoproterozoic Era", "Paleozoic"];
var eraBounds = [820.75, 540, 520];
var tickAges = [800, 750, 700, 650, 600, 550, 520];
var tickLabels = ["800 Ma", "750", "700", "650", "600", "550", "520"];
var yTicks = [10, 0, -10];
var yTickLabels = ["+10", "0", "-10"];

// ---- tectonics (orange) ----
var tectonicNames = ["Gondwana assembly", "Rodinia breakup"];
var tectonicSolid = [[600.5, 517.8], [722, 531.6]];
var tectonicDotted = [null, [775.6, 722]];
var tectonicLabelAge = [558.7, 633.0];

// ---- biological evidence (green) ----
var evidenceNames = ["Crown Metazoa molecular clock estimate", "24-ipc and 26-mes|demosponge biomarkers", "Ediacaran macrofossils",
  "Bilaterian fossils", "Cloudinid fossils", "Complex burrows", "Cambrian fossils"];
var evidenceSolid = [[721, 822.5], [653.1, 592.1], [575.1, 538.3], [557.1, 517.8], [549.7, 537.7], [539.9, 517.8], [530.3, 517.8]];
var evidenceDotted = [null, null, null, null, [537.7, 534.0], null, [539.9, 530.3]];
var evidenceArrow = [true, true, false, true, false, true, true];
var crownCladeAge = 780.4;

// ---- chapters ----
var chapterNames = ["Chapters 2-3", "Chapters 4-6"];
var chapterSpans = [[717.5, 635.8], [544.9, 533.8]];

// ================= drawing =================
var W = 1249, H = 632;
var GREEN = "#119a48", ORANGE = "#f7941d", BLUE = "#8ab8e2", FRAME = "#4a4a4a", INK = "#1a1a1a";

var svg = d3.select("#chart").append("svg").attr("width", W).attr("height", H);

var x = d3.scaleLinear().domain([820.75, 520]).range([65, 1199]);
var y = d3.scaleLinear().domain([-10, 10]).range([433, 311]);
var plotTop = 279, plotBottom = 463;

// glaciation boxes
glaciationNames.forEach(function (name, i) {
  svg.append("rect")
    .attr("x", x(glaciationStart[i])).attr("y", plotTop)
    .attr("width", x(glaciationEnd[i]) - x(glaciationStart[i]))
    .attr("height", plotBottom - plotTop)
    .attr("fill", BLUE);
});
svg.append("text").attr("x", (x(glaciationStart[0]) + x(glaciationEnd[0])) / 2).attr("y", 375)
  .attr("text-anchor", "middle").attr("font-size", 14).attr("fill", INK).text(glaciationNames[0]);
var mx = (x(glaciationStart[1]) + x(glaciationEnd[1])) / 2;
svg.append("text").attr("transform", "translate(" + (mx + 5) + ",354) rotate(-90)")
  .attr("text-anchor", "middle").attr("font-size", 14).attr("fill", INK).text(glaciationNames[1]);

// gaskiers
svg.append("line").attr("x1", x(gaskiersAge)).attr("x2", x(gaskiersAge))
  .attr("y1", plotTop).attr("y2", y(0)).attr("stroke", BLUE).attr("stroke-width", 2.5);
svg.append("text").attr("transform", "translate(" + (x(gaskiersAge) - 5) + ",298) rotate(-90)")
  .attr("font-size", 13).attr("fill", INK).text("Gaskiers");
svg.append("text").attr("transform", "translate(" + (x(gaskiersAge) + 14) + ",298) rotate(-90)")
  .attr("font-size", 13).attr("fill", INK).text("glaciation");

// frame and reference lines
yTicks.forEach(function (t) {
  svg.append("line").attr("x1", 65).attr("x2", 1204).attr("y1", y(t)).attr("y2", y(t))
    .attr("stroke", FRAME).attr("stroke-width", 1);
});
svg.append("path").attr("d", "M65," + y(10) + "V" + plotBottom + "H1199V" + plotTop)
  .attr("fill", "none").attr("stroke", FRAME).attr("stroke-width", 1);

var yAxis = svg.append("g").attr("transform", "translate(1199,0)")
  .call(d3.axisRight(y).tickValues(yTicks).tickSize(0).tickFormat(function (d, i) { return yTickLabels[i]; }));
yAxis.select(".domain").remove();
yAxis.selectAll("text").attr("x", 16).attr("text-anchor", "middle")
  .attr("font-size", 14).attr("font-family", "Open Sans").attr("fill", INK);

var yTitle = svg.append("text").attr("transform", "translate(1244,376) rotate(-90)")
  .attr("text-anchor", "middle").attr("font-size", 13).attr("fill", INK);
yTitle.append("tspan").text("\u03b4");
yTitle.append("tspan").attr("font-size", 8).attr("dy", -5).text("13");
yTitle.append("tspan").attr("dy", 5).text("C");
yTitle.append("tspan").attr("font-size", 8).attr("dy", 3).text("carb");
yTitle.append("tspan").attr("dy", -3).text(" (\u2030 VPDB)");

// isotope data
var dots = [];
[tonianRows, tonianBandRows, cryogenianRows, ediacaranRows, ediacaranBandRows, terminalScatter].forEach(function (rows) {
  rows.forEach(function (r) {
    r.slice(1).forEach(function (v) { dots.push([r[0], v]); });
  });
});
svg.append("g").selectAll("line").data(denseRanges).enter().append("line")
  .attr("x1", function (d) { return x(d[0]); }).attr("x2", function (d) { return x(d[0]); })
  .attr("y1", function (d) { return y(d[1]); }).attr("y2", function (d) { return y(d[2]); })
  .attr("stroke", "#000").attr("stroke-width", 1.5);
svg.append("g").selectAll("circle").data(dots).enter().append("circle")
  .attr("cx", function (d) { return x(d[0]); })
  .attr("cy", function (d) { return y(d[1]); })
  .attr("r", 1.05).attr("fill", "#000");

// negative CIE labels
var negLabel = svg.append("text").attr("text-anchor", "end").attr("font-size", 13).attr("fill", INK);
negLabel.append("tspan").attr("x", 58).attr("y", 481).text("Negative");
negLabel.append("tspan").attr("x", 58).attr("dy", 18).text("CIEs:");
cieNames.forEach(function (name, i) {
  var lines = name.split("|");
  var t = svg.append("text")
    .attr("transform", "translate(" + (x(cieAges[i]) + 4 - (lines.length - 1) * 5.5) + ",467) rotate(-90)")
    .attr("text-anchor", "end").attr("font-size", 12).attr("font-style", "italic").attr("fill", INK);
  lines.forEach(function (ln, j) {
    t.append("tspan").attr("x", 0).attr("y", j * 11).text(ln);
  });
});

// time scale
var tsTop = 529, tsMid = 554, tsBottom = 579;
svg.append("rect").attr("x", 65).attr("y", tsTop).attr("width", 1134).attr("height", tsBottom - tsTop)
  .attr("fill", "none").attr("stroke", FRAME);
svg.append("line").attr("x1", 65).attr("x2", 1199).attr("y1", tsMid).attr("y2", tsMid).attr("stroke", FRAME);
periodNames.forEach(function (name, i) {
  if (i > 0) {
    svg.append("line").attr("x1", x(periodBounds[i])).attr("x2", x(periodBounds[i]))
      .attr("y1", tsTop).attr("y2", tsMid).attr("stroke", FRAME);
  }
  svg.append("text").attr("x", (x(periodBounds[i]) + x(periodBounds[i + 1])) / 2).attr("y", 546)
    .attr("text-anchor", "middle").attr("font-size", 13.5).attr("fill", INK).text(name);
});
eraNames.forEach(function (name, i) {
  if (i > 0) {
    svg.append("line").attr("x1", x(eraBounds[i])).attr("x2", x(eraBounds[i]))
      .attr("y1", tsMid).attr("y2", tsBottom).attr("stroke", FRAME);
  }
  svg.append("text").attr("x", (x(eraBounds[i]) + x(eraBounds[i + 1])) / 2).attr("y", 571)
    .attr("text-anchor", "middle").attr("font-size", 13.5).attr("fill", INK).text(name);
});
var xAxis = svg.append("g").attr("transform", "translate(0," + tsBottom + ")")
  .call(d3.axisBottom(x).tickValues(tickAges).tickSize(5).tickPadding(6)
    .tickFormat(function (d, i) { return tickLabels[i]; }));
xAxis.select(".domain").remove();
xAxis.selectAll("line").attr("stroke", FRAME);
xAxis.selectAll("text").attr("font-size", 13.5).attr("font-family", "Open Sans").attr("fill", INK);

// chapter arrows
function arrowHead(g, tipX, tipY, dir, len, half, color) {
  g.append("path")
    .attr("d", "M" + tipX + "," + tipY + "L" + (tipX - dir * len) + "," + (tipY - half) +
      "L" + (tipX - dir * len * 0.8) + "," + tipY + "L" + (tipX - dir * len) + "," + (tipY + half) + "Z")
    .attr("fill", color);
}
chapterNames.forEach(function (name, i) {
  var x0 = x(chapterSpans[i][0]), x1 = x(chapterSpans[i][1]), yy = 608;
  svg.append("line").attr("x1", x0 + 5).attr("x2", x1 - 5).attr("y1", yy).attr("y2", yy)
    .attr("stroke", "#111").attr("stroke-width", 1.3);
  arrowHead(svg, x0, yy, -1, 10, 4.5, "#111");
  arrowHead(svg, x1, yy, 1, 10, 4.5, "#111");
  svg.append("text").attr("x", (x0 + x1) / 2 - 2).attr("y", 627).attr("text-anchor", "middle")
    .attr("font-size", 12.5).attr("font-weight", "bold").attr("font-style", "italic")
    .attr("fill", "#111").text(name);
});

// tectonic bars
var tectonicY = [26, 55], tectonicLabelY = [20, 48];
tectonicNames.forEach(function (name, i) {
  svg.append("line").attr("x1", x(tectonicSolid[i][0])).attr("x2", x(tectonicSolid[i][1]))
    .attr("y1", tectonicY[i]).attr("y2", tectonicY[i]).attr("stroke", ORANGE).attr("stroke-width", 4);
  if (tectonicDotted[i]) {
    svg.append("line").attr("x1", x(tectonicDotted[i][0])).attr("x2", x(tectonicDotted[i][1]) - 3)
      .attr("y1", tectonicY[i]).attr("y2", tectonicY[i]).attr("stroke", ORANGE).attr("stroke-width", 4)
      .attr("stroke-dasharray", "4,4.5");
  }
  svg.append("text").attr("x", x(tectonicLabelAge[i])).attr("y", tectonicLabelY[i])
    .attr("text-anchor", "middle").attr("font-size", 13).attr("fill", INK).text(name);
});

// evidence bars
var evidenceY = [221, 222, 221, 193, 164, 133, 100];
evidenceNames.forEach(function (name, i) {
  var yy = evidenceY[i];
  var a = x(evidenceSolid[i][0]), b = x(evidenceSolid[i][1]);
  var dir = b > a ? 1 : -1;
  var bEnd = evidenceArrow[i] ? b - dir * 11 : b;
  svg.append("line").attr("x1", a).attr("x2", bEnd).attr("y1", yy).attr("y2", yy)
    .attr("stroke", GREEN).attr("stroke-width", 3.5);
  if (evidenceArrow[i]) {
    svg.append("path").attr("d", "M" + b + "," + yy + "L" + (b - dir * 15) + "," + (yy - 6.5) +
      "L" + (b - dir * 15) + "," + (yy + 6.5) + "Z").attr("fill", GREEN);
  }
  if (evidenceDotted[i]) {
    svg.append("line").attr("x1", x(evidenceDotted[i][0])).attr("x2", x(evidenceDotted[i][1]))
      .attr("y1", yy).attr("y2", yy).attr("stroke", GREEN).attr("stroke-width", 3.5)
      .attr("stroke-dasharray", "1.6,1.6");
  }
  var lines = name.split("|");
  if (i === 0) {
    svg.append("text").attr("x", 258).attr("y", yy - 9).attr("text-anchor", "middle")
      .attr("font-size", 13).attr("fill", INK).text(lines[0]);
  } else {
    var lx = x(evidenceDotted[i] && evidenceDotted[i][0] > evidenceSolid[i][0] ? evidenceDotted[i][0] : evidenceSolid[i][0]) + 1;
    var t = svg.append("text").attr("font-size", 12.5).attr("fill", INK);
    lines.forEach(function (ln, j) {
      t.append("tspan").attr("x", lx).attr("y", yy - 9 - (lines.length - 1 - j) * 17).text(ln);
    });
  }
});
svg.append("circle").attr("cx", x(crownCladeAge)).attr("cy", evidenceY[0]).attr("r", 5.5).attr("fill", GREEN);
</script>
</body>
</html>
